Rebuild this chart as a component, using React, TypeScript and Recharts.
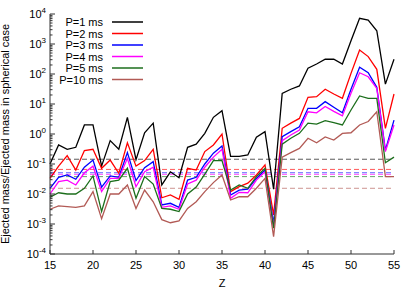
import React from 'react';
import { LineChart, Line, XAxis, YAxis, ReferenceLine, Legend } from 'recharts';

const zValues = [15, 16, 17, 18, 19, 20, 21, 22, 23, 24, 25, 26, 27, 28, 29, 30, 31, 32, 33, 34, 35,
  36, 37, 38, 39, 40, 41, 42, 43, 44, 45, 46, 47, 48, 49, 50, 51, 52, 53, 54, 55];

const p1 = [0.1, 0.43, 0.31, 0.36, 2.0, 2.0, 0.085, 0.6, 0.31, 3.6, 0.14, 1.1, 2.3, 0.02, 0.055, 0.035, 0.36, 0.46, 1.05, 3.6, 6.0,
  0.18, 0.18, 0.2, 0.78, 1.2, 0.0144, 22.7, 31, 40, 155, 215, 310, 310, 215, 1290, 7200, 6300, 2770, 46, 310];
const p2 = [0.033, 0.085, 0.19, 0.063, 0.28, 0.31, 0.072, 0.135, 0.049, 0.51, 0.085, 0.13, 0.31, 0.0075, 0.0093, 0.0066, 0.072, 0.063, 0.26, 0.43, 1.0,
  0.012, 0.0175, 0.023, 0.043, 0.093, 0.002, 1.55, 2.3, 3.3, 16.7, 17.5, 31, 21.5, 15.5, 105, 630, 380, 143, 1.55, 21.5];
const p3 = [0.0155, 0.036, 0.043, 0.031, 0.078, 0.135, 0.017, 0.04, 0.036, 0.24, 0.028, 0.075, 0.12, 0.0043, 0.0049, 0.0036, 0.029, 0.036, 0.1, 0.23, 0.4,
  0.0093, 0.0135, 0.0144, 0.033, 0.063, 0.00105, 0.81, 1.2, 1.75, 7.2, 7.2, 12, 7.8, 5.1, 31, 167, 110, 36, 0.29, 2.9];
const p4 = [0.01, 0.026, 0.029, 0.02, 0.051, 0.085, 0.012, 0.033, 0.033, 0.155, 0.0175, 0.055, 0.078, 0.0036, 0.004, 0.0031, 0.0215, 0.029, 0.078, 0.17, 0.31,
  0.0072, 0.0114, 0.011, 0.029, 0.055, 0.0008, 0.6, 0.93, 1.36, 5.5, 5.1, 8.3, 5.7, 4.0, 22.7, 110, 81, 33, 0.26, 2.0];
const p5 = [0.0078, 0.011, 0.01, 0.01, 0.0155, 0.04, 0.0026, 0.026, 0.029, 0.072, 0.0072, 0.038, 0.0215, 0.0033, 0.0031, 0.0026, 0.01, 0.017, 0.046, 0.13, 0.13,
  0.0135, 0.02, 0.0155, 0.038, 0.072, 0.00072, 0.46, 0.72, 1.05, 2.3, 2.15, 2.8, 2.4, 2.0, 6.3, 18.5, 15.5, 15.5, 0.11, 0.17];
const p10 = [0.0031, 0.004, 0.0038, 0.0036, 0.004, 0.012, 0.0015, 0.01, 0.01, 0.02, 0.0033, 0.0135, 0.0055, 0.0014, 0.0011, 0.00126, 0.0033, 0.0055, 0.012, 0.024, 0.043,
  0.0063, 0.0081, 0.0081, 0.0155, 0.033, 0.00038, 0.17, 0.24, 0.33, 0.72, 0.51, 0.8, 0.63, 1.05, 1.1, 2.0, 2.6, 5.5, 0.038, 0.038];

// spherical-case levels (dashed lines)
const sphericalLevels = [0.144, 0.066, 0.051, 0.045, 0.038, 0.0155];

const seriesNames = ['P=1 ms', 'P=2 ms', 'P=3 ms', 'P=4 ms', 'P=5 ms', 'P=10 ms'];
const seriesKeys = ['p1', 'p2', 'p3', 'p4', 'p5', 'p10'];
const seriesColors = ['#000000', '#ff0000', '#0000ff', '#ff00ff', '#1c6e1c', '#b25a55'];

const xTicks = [15, 20, 25, 30, 35, 40, 45, 50, 55];
const yExponents = [-4, -3, -2, -1, 0, 1, 2, 3, 4];
const minorSteps = [2, 3, 4, 5, 6, 7, 8, 9];

const data = zValues.map((z, i) => ({
  z,
  p1: p1[i],
  p2: p2[i],
  p3: p3[i],
  p4: p4[i],
  p5: p5[i],
  p10: p10[i],
}));

const yTicks: number[] = [];
yExponents.forEach((e, idx) => {
  yTicks.push(Math.pow(10, e));
  if (idx < yExponents.length - 1) {
    minorSteps.forEach(m => yTicks.push(m * Math.pow(10, e)));
  }
});

const FONT = '"Liberation Sans", Arial, sans-serif';
const FRAME = '#333333';

const isMajor = (v: number) => Math.abs(Math.log10(v) - Math.round(Math.log10(v))) < 1e-6;

const LeftTick = ({ x, y, payload }: any) => {
  const v = payload.value;
  const major = isMajor(v);
  const len = major ? 5 : 2.5;
  return (
    <g>
      <line x1={x} y1={y} x2={x + len} y2={y} stroke={FRAME} strokeWidth={1} />
      {major && (
        <text x={x - 4} y={y + 4} textAnchor="end" fontFamily={FONT} fontSize={11} fill="#000">
          <tspan>10</tspan>
          <tspan dy={-5} fontSize={8}>{Math.round(Math.log10(v))}</tspan>
        </text>
      )}
    </g>
  );
};

const RightTick = ({ x, y, payload }: any) => {
  const len = isMajor(payload.value) ? 5 : 2.5;
  return <line x1={x} y1={y} x2={x - len} y2={y} stroke={FRAME} strokeWidth={1} />;
};

const BottomTick = ({ x, y, payload }: any) => (
  <g>
    <line x1={x} y1={y} x2={x} y2={y - 4} stroke={FRAME} strokeWidth={1} />
    <text x={x} y={y + 15} textAnchor="middle" fontFamily={FONT} fontSize={11} fill="#000">
      {payload.value}
    </text>
  </g>
);

const TopTick = ({ x, y }: any) => (
  <line x1={x} y1={y} x2={x} y2={y + 4} stroke={FRAME} strokeWidth={1} />
);

const renderLegend = () => (
  <svg width={110} height={75}>
    {seriesNames.map((name, i) => (
      <g key={name}>
        <text x={50} y={10 + i * 11.5} textAnchor="end" fontFamily={FONT} fontSize={11} fill="#000">
          {name}
        </text>
        <line x1={59} y1={6 + i * 11.5} x2={90} y2={6 + i * 11.5} stroke={seriesColors[i]} strokeWidth={1.5} />
      </g>
    ))}
  </svg>
);

const App: React.FC = () => {
  return (
    <div style={{ position: 'absolute', left: 0, top: 0, width: 415, height: 291, background: '#fff' }}>
      <LineChart width={415} height={291} data={data} margin={{ top: 14, right: 21, bottom: 0, left: 0 }}>
        <XAxis
          dataKey="z"
          type="number"
          domain={[15, 55]}
          ticks={xTicks}
          interval={0}
          height={37}
          tickSize={0}
          tickMargin={0}
          stroke={FRAME}
          tick={<BottomTick />}
          label={{ value: 'Z', position: 'insideBottom', offset: 4, style: { fontFamily: FONT, fontSize: 11, fill: '#000' } }}
        />
        <XAxis
          xAxisId="top"
          orientation="top"
          dataKey="z"
          type="number"
          domain={[15, 55]}
          ticks={xTicks}
          interval={0}
          height={0}
          tickSize={0}
          tickMargin={0}
          stroke={FRAME}
          tick={<TopTick />}
        />
        <YAxis
          type="number"
          scale="log"
          domain={[1e-4, 1e4]}
          allowDataOverflow
          ticks={yTicks}
          interval={0}
          width={50}
          tickSize={0}
          tickMargin={0}
          stroke={FRAME}
          tick={<LeftTick />}
          label={{
            value: 'Ejected mass/Ejected mass in spherical case',
            angle: -90,
            position: 'insideLeft',
            offset: 5,
            style: { fontFamily: FONT, fontSize: 11, fill: '#000', textAnchor: 'middle' },
          }}
        />
        <YAxis
          yAxisId="right"
          orientation="right"
          type="number"
          scale="log"
          domain={[1e-4, 1e4]}
          allowDataOverflow
          ticks={yTicks}
          interval={0}
          width={0}
          tickSize={0}
          tickMargin={0}
          stroke={FRAME}
          tick={<RightTick />}
        />
        {sphericalLevels.map((lvl, i) => (
          <ReferenceLine
            key={`ref-${i}`}
            y={lvl}
            stroke={seriesColors[i]}
            strokeOpacity={0.65}
            strokeDasharray="5 3"
            strokeWidth={1}
          />
        ))}
        {seriesKeys.map((key, i) => (
          <Line
            key={key}
            dataKey={key}
            name={seriesNames[i]}
            stroke={seriesColors[i]}
            strokeWidth={1.3}
            dot={false}
            isAnimationActive={false}
          />
        ))}
        <Legend
          layout="vertical"
          align="center"
          verticalAlign="middle"
          content={renderLegend}
          wrapperStyle={{ position: 'absolute', left: 53, top: 16, width: 110 }}
        />
      </LineChart>
    </div>
  );
};

export default App;
